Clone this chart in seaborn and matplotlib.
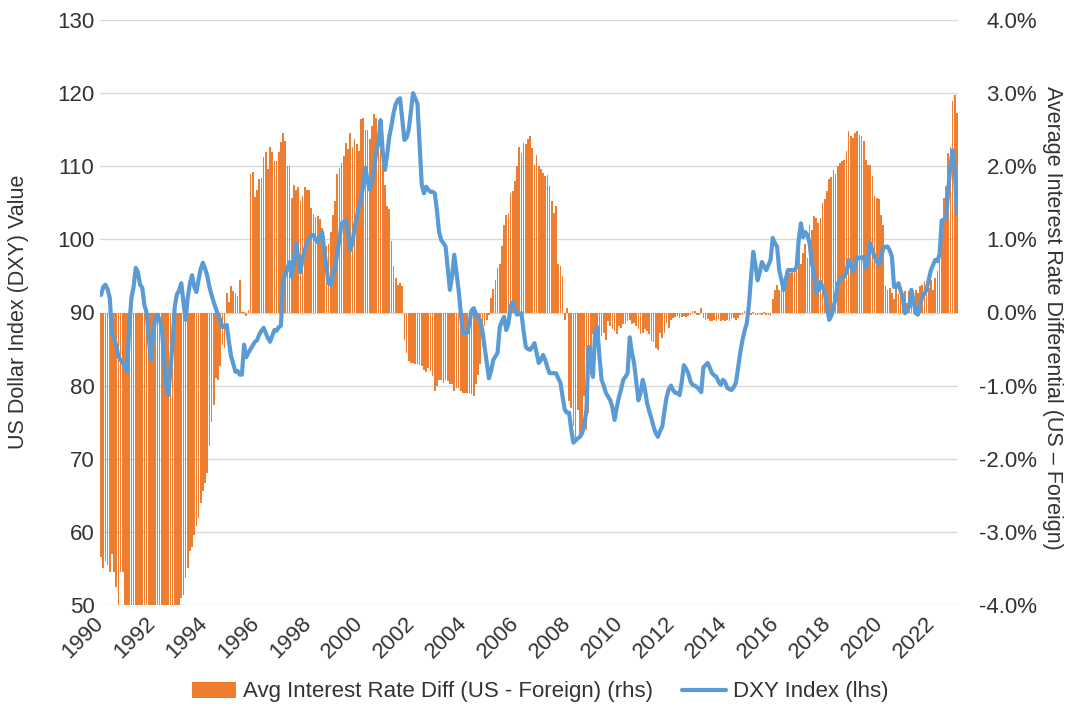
import matplotlib
matplotlib.use("Agg")
import matplotlib.pyplot as plt
import numpy as np
import pandas as pd
import seaborn as sns
from matplotlib.lines import Line2D
from matplotlib.patches import Patch
from matplotlib.ticker import FuncFormatter

# monthly values, Jan 1990 .. Dec 2022, one row per year

# average interest rate differential, US minus foreign, in %
RATE_DIFF = [
    -3.35, -3.5, -3.4, -3.45, -3.55, -3.3, -3.55, -3.75, -4.1, -3.55, -3.55, -4.2,  # 1990
    -4.3, -4.4, -4.5, -4.4, -4.6, -4.5, -4.7, -4.6, -4.5, -4.6, -4.8, -4.9,  # 1991
    -5.0, -4.9, -4.8, -4.9, -5.0, -5.2, -5.4, -5.3, -5.1, -4.9, -4.6, -4.3,  # 1992
    -4.1, -3.9, -3.86, -3.63, -3.5, -3.26, -3.2, -3.04, -2.92, -2.81, -2.6, -2.44,  # 1993
    -2.33, -2.2, -1.83, -1.5, -1.26, -0.89, -0.92, -0.73, -0.44, -0.48, 0.26, 0.15,  # 1994
    0.36, 0.29, 0.27, 0.22, 0.45, 0.01, 0.01, -0.05, 0.04, 1.89, 1.92, 1.58,  # 1995
    1.68, 1.82, 1.84, 2.13, 2.19, 1.96, 2.26, 2.2, 2.07, 2.07, 2.19, 2.33,  # 1996
    2.45, 2.34, 2.0, 2.0, 1.57, 1.75, 1.68, 1.71, 1.52, 1.6, 1.71, 1.68,  # 1997
    1.68, 1.43, 1.35, 1.30, 1.32, 1.28, 1.16, 1.04, 0.91, 0.93, 1.1, 1.34,  # 1998
    1.52, 1.89, 1.98, 2.05, 2.14, 2.32, 2.23, 2.46, 2.27, 2.37, 2.30, 2.21,  # 1999
    2.64, 2.66, 2.50, 2.50, 2.37, 2.55, 2.71, 2.66, 2.48, 2.37, 2.07, 1.75,  # 2000
    1.45, 1.41, 0.98, 0.63, 0.47, 0.38, 0.40, 0.36, -0.37, -0.55, -0.67, -0.69,  # 2001
    -0.69, -0.70, -0.71, -0.72, -0.73, -0.78, -0.82, -0.76, -0.80, -0.87, -1.08, -1.01,  # 2002
    -0.92, -0.92, -0.96, -0.92, -0.94, -0.98, -0.98, -1.08, -1.03, -1.03, -1.08, -1.10,  # 2003
    -1.10, -1.10, -1.10, -1.12, -1.14, -0.98, -0.85, -0.71, -0.46, -0.19, -0.10, -0.03,  # 2004
    0.20, 0.32, 0.45, 0.61, 0.66, 0.91, 1.2, 1.34, 1.36, 1.64, 1.66, 1.80,  # 2005
    2.0, 2.27, 2.18, 2.32, 2.30, 2.37, 2.41, 2.25, 2.02, 2.16, 2.0, 1.96,  # 2006
    1.91, 1.86, 1.88, 1.73, 1.52, 1.36, 1.45, 0.66, 0.63, 0.5, -0.1, 0.06,  # 2007
    -1.21, -1.30, -1.55, -1.71, -1.33, -1.71, -1.6, -1.14, -1.6, -1.37, -0.85, -0.30,  # 2008
    -0.41, -0.28, -0.44, -0.32, -0.28, -0.37, -0.12, -0.19, -0.23, -0.25, -0.30, -0.19,  # 2009
    -0.21, -0.16, -0.16, -0.12, -0.10, -0.16, -0.14, -0.18, -0.23, -0.30, -0.28, -0.23,  # 2010
    -0.25, -0.30, -0.39, -0.41, -0.48, -0.51, -0.28, -0.35, -0.28, -0.14, -0.21, -0.10,  # 2011
    -0.07, -0.06, -0.05, -0.07, -0.06, -0.05, -0.06, -0.05, -0.04, 0.02, 0.02, -0.03,  # 2012
    -0.04, 0.06, -0.08, -0.10, -0.09, -0.11, -0.12, -0.10, -0.11, -0.09, -0.12, -0.10,  # 2013
    -0.11, -0.10, -0.12, -0.09, -0.08, -0.10, -0.08, -0.04, -0.03, 0.02, -0.03, -0.02,  # 2014
    -0.03, 0.01, -0.03, -0.04, -0.02, -0.03, 0.01, -0.04, -0.03, -0.05, 0.18, 0.31,  # 2015
    0.38, 0.31, 0.38, 0.34, 0.50, 0.52, 0.54, 0.57, 0.61, 0.77, 0.84, 0.66,  # 2016
    0.82, 0.93, 0.75, 1.20, 1.13, 1.32, 1.29, 1.23, 1.29, 1.50, 1.55, 1.66,  # 2017
    1.82, 1.85, 1.95, 1.90, 2.00, 2.05, 2.07, 2.09, 2.21, 2.48, 2.41, 2.39,  # 2018
    2.46, 2.48, 2.43, 2.41, 2.34, 2.09, 2.02, 2.02, 1.86, 1.59, 1.57, 1.55,  # 2019
    1.34, 1.20, 0.36, 0.31, 0.34, 0.27, 0.18, 0.41, 0.25, 0.27, 0.18, 0.29,  # 2020
    0.13, 0.29, 0.22, 0.27, 0.31, 0.27, 0.36, 0.38, 0.43, 0.34, 0.34, 0.45,  # 2021
    0.31, 0.47, 0.57, 1.00, 1.07, 1.57, 1.73, 2.18, 2.27, 2.89, 2.98, 2.73,  # 2022
]

# US dollar index level
DXY = [
    92.4, 93.5, 93.8, 93.2, 92.0, 87.2, 86.5, 85.5, 84.0, 83.5, 83.1, 82.5,  # 1990
    81.9, 88.0, 92.0, 93.5, 96.1, 95.5, 93.8, 93.4, 91.0, 90.0, 86.5, 83.5,  # 1991
    87.0, 89.2, 89.7, 89.0, 88.0, 84.0, 80.0, 78.7, 82.0, 86.0, 90.8, 92.5,  # 1992
    93.0, 94.0, 91.5, 89.0, 92.0, 94.0, 95.1, 93.5, 92.8, 94.5, 96.0, 96.8,  # 1993
    96.0, 95.0, 93.5, 92.4, 91.4, 90.5, 89.7, 89.0, 88.0, 88.1, 88.3, 86.0,  # 1994
    84.0, 83.0, 81.9, 82.0, 81.5, 81.5, 85.6, 83.9, 84.5, 85.0, 85.5, 86.0,  # 1995
    86.2, 87.0, 87.5, 87.9, 87.2, 86.5, 86.0, 86.8, 87.6, 87.5, 88.0, 88.2,  # 1996
    94.4, 95.2, 96.0, 96.9, 94.9, 97.0, 99.5, 97.5, 95.5, 97.5, 98.5, 99.5,  # 1997
    100.1, 100.6, 100.6, 100.0, 99.6, 100.3, 101.0, 98.5, 96.2, 94.0, 93.8, 95.0,  # 1998
    96.2, 98.0, 100.0, 102.2, 102.4, 102.6, 101.0, 98.5, 99.5, 101.7, 103.0, 104.5,  # 1999
    105.4, 107.5, 109.8, 108.0, 106.8, 108.0, 109.5, 112.0, 113.2, 116.3, 112.0, 109.5,  # 2000
    111.5, 114.0, 115.5, 117.3, 118.5, 119.1, 119.3, 116.5, 113.6, 113.9, 115.0, 117.5,  # 2001
    120.0, 119.3, 118.6, 113.0, 107.5, 106.3, 107.2, 106.8, 106.5, 106.5, 106.3, 104.0,  # 2002
    101.0, 99.9, 99.5, 99.0, 96.0, 93.1, 95.0, 97.9, 95.5, 93.1, 90.0, 87.2,  # 2003
    87.2, 87.2, 88.5, 90.3, 90.6, 89.8, 89.4, 88.9, 87.5, 85.3, 83.0, 81.0,  # 2004
    82.0, 83.5, 84.0, 84.5, 88.0, 88.8, 89.4, 87.6, 88.5, 90.8, 91.4, 90.5,  # 2005
    89.7, 89.8, 89.9, 87.5, 85.3, 85.0, 84.9, 85.3, 85.8, 84.5, 83.1, 83.5,  # 2006
    84.2, 83.5, 82.5, 81.7, 81.7, 81.7, 81.7, 81.0, 80.4, 78.5, 76.7, 76.3,  # 2007
    76.3, 74.0, 72.2, 72.5, 72.8, 73.0, 73.5, 74.5, 76.7, 85.3, 84.0, 81.2,  # 2008
    87.2, 88.0, 84.0, 80.8, 80.0, 79.0, 78.5, 78.0, 77.0, 75.3, 77.0, 78.4,  # 2009
    79.5, 80.8, 81.2, 81.7, 86.6, 84.5, 83.1, 80.5, 78.0, 79.0, 80.8, 79.5,  # 2010
    77.6, 76.5, 75.5, 74.4, 73.5, 73.0, 73.8, 74.4, 76.5, 78.4, 79.5, 80.0,  # 2011
    79.4, 79.0, 79.0, 78.7, 80.5, 82.8, 82.3, 81.7, 80.6, 80.1, 80.0, 79.8,  # 2012
    79.5, 79.1, 82.5, 82.8, 83.1, 82.4, 81.7, 81.4, 81.2, 80.5, 80.1, 80.8,  # 2013
    80.5, 79.7, 79.5, 79.4, 79.8, 80.4, 82.5, 84.5, 86.2, 87.5, 88.5, 91.0,  # 2014
    94.9, 98.3, 96.5, 94.4, 95.5, 96.9, 96.3, 95.8, 96.5, 97.2, 100.2, 99.5,  # 2015
    99.0, 95.8, 94.5, 93.1, 94.5, 95.8, 95.8, 95.8, 95.8, 96.2, 100.0, 102.2,  # 2016
    100.3, 101.0, 100.6, 99.5, 96.8, 95.5, 92.7, 93.0, 94.2, 93.5, 92.7, 91.0,  # 2017
    89.0, 89.5, 90.6, 92.0, 94.0, 94.4, 94.8, 94.9, 95.5, 97.2, 96.5, 95.6,  # 2018
    96.5, 97.5, 97.5, 97.5, 97.6, 96.1, 97.5, 99.5, 98.5, 97.6, 97.0, 96.5,  # 2019
    97.5, 98.8, 99.0, 99.0, 98.5, 97.6, 93.5, 93.5, 94.0, 93.0, 92.1, 89.9,  # 2020
    90.3, 90.8, 93.1, 91.5, 89.9, 89.7, 91.0, 92.1, 92.6, 93.1, 94.5, 95.8,  # 2021
    96.5, 97.2, 97.0, 98.0, 102.6, 102.7, 102.9, 106.8, 110.0, 112.2, 109.5, 103.6,  # 2022
]

TICK_YEARS = list(range(1990, 2023, 2))
DXY_TICKS = list(range(50, 131, 10))
DIFF_TICKS = [-4, -3, -2, -1, 0, 1, 2, 3, 4]

ORANGE = "#ed7d31"
BLUE = "#5b9bd5"
GRID = "#d9d9d9"
TEXT = "#333333"
FS = 16
FS_TITLE = 15.5

W, H = 1070, 721


def main() -> None:
    months = pd.period_range("1990-01", "2022-12", freq="M")
    df = pd.DataFrame({
        "t": months.year + (months.month - 0.5) / 12,
        "diff": RATE_DIFF,
        "dxy": DXY,
    })

    sns.set_style("white")
    plt.rcParams["font.family"] = ["Liberation Sans", "DejaVu Sans"]

    fig = plt.figure(figsize=(W / 100, H / 100), dpi=100)
    ax_bar = fig.add_axes([100 / W, 1 - 605 / H, 858 / W, 585 / H])
    ax_line = ax_bar.twinx()

    sns.barplot(data=df, x="t", y="diff", native_scale=True, color=ORANGE,
                saturation=1, width=0.75, errorbar=None, linewidth=0,
                edgecolor="none", ax=ax_bar)
    sns.lineplot(data=df, x="t", y="dxy", color=BLUE, linewidth=3, ax=ax_line)

    # bars on the right-hand scale, line on the left-hand one
    ax_bar.yaxis.tick_right()
    ax_line.yaxis.tick_left()

    ax_bar.set_ylim(-4, 4)
    ax_bar.set_yticks(DIFF_TICKS)
    ax_bar.yaxis.set_major_formatter(FuncFormatter(lambda v, _: f"{v:.1f}%"))
    ax_line.set_ylim(50, 130)
    ax_line.set_yticks(DXY_TICKS)

    ax_bar.set_xlim(1990, 2023)
    ax_bar.set_xticks(TICK_YEARS)
    ax_bar.set_xticklabels([str(y) for y in TICK_YEARS], rotation=45,
                           ha="right", va="center", rotation_mode="anchor")

    ax_bar.yaxis.grid(True, color=GRID, linewidth=1)
    ax_bar.xaxis.grid(False)
    ax_bar.set_axisbelow(True)

    for ax in (ax_bar, ax_line):
        ax.set_xlabel("")
        ax.set_ylabel("")
        for side in ax.spines.values():
            side.set_visible(False)
    ax_bar.tick_params(axis="both", length=0, labelsize=FS, labelcolor=TEXT)
    ax_bar.tick_params(axis="x", pad=11)
    ax_bar.tick_params(axis="y", pad=57)
    for lab in ax_bar.get_yticklabels():
        lab.set_horizontalalignment("right")
    ax_line.tick_params(axis="y", length=0, labelsize=FS, labelcolor=TEXT, pad=4)

    fig.text(19 / W, 1 - 312 / H, "US Dollar Index (DXY) Value", rotation=90,
             ha="center", va="center", fontsize=FS_TITLE, color=TEXT)
    fig.text(1052 / W, 1 - 318 / H, "Average Interest Rate Differential (US \u2013 Foreign)",
             rotation=270, ha="center", va="center", fontsize=FS_TITLE, color=TEXT)

    handles = [
        Patch(facecolor=ORANGE, edgecolor="none"),
        Line2D([], [], color=BLUE, linewidth=3),
    ]
    labels = ["Avg Interest Rate Diff (US - Foreign) (rhs)", "DXY Index (lhs)"]
    fig.legend(handles, labels, loc="center", bbox_to_anchor=(540 / W, 1 - 692 / H),
               ncol=2, frameon=False, fontsize=FS, labelcolor=TEXT,
               handlelength=2.0, handletextpad=0.3, columnspacing=1.3)

    fig.savefig("out.png", dpi=100)
    plt.close(fig)


if __name__ == "__main__":
    main()
